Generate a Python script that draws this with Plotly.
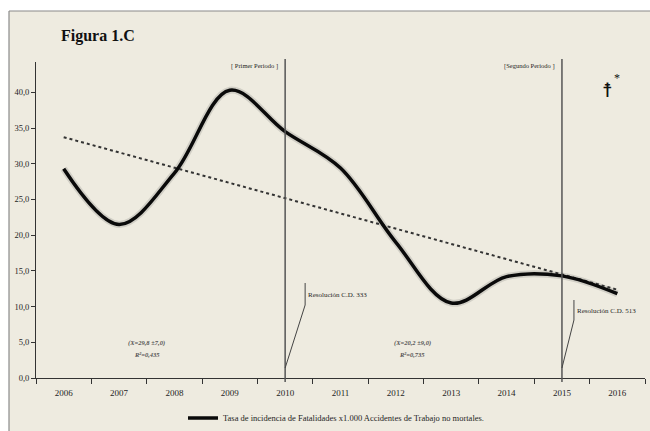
import plotly.graph_objects as go

# Tasa de incidencia de fatalidades por cada 1.000 accidentes de trabajo no mortales
years = [2006, 2007, 2008, 2009, 2010, 2011, 2012, 2013, 2014, 2015, 2016]
tasa = [29.3, 21.5, 28.7, 40.3, 34.5, 29.4, 19.0, 10.5, 14.2, 14.3, 11.8]

series_name = "Tasa de incidencia de Fatalidades x1.000 Accidentes de Trabajo no mortales."
y_ticks = [0, 5, 10, 15, 20, 25, 30, 35, 40]

# Periodos y resoluciones
period_years = [2010, 2015]
period_labels = ["[ Primer Periodo ]", "[Segundo Periodo ]"]
resolution_labels = ["Resolución C.D. 333", "Resolución C.D. 513"]
period_stats = [("(X=29,8 ±7,0)", "R²=0,435"), ("(X=20,2 ±9,0)", "R²=0,735")]
stats_centers = [2007.5, 2012.3]

# Recta de tendencia por mínimos cuadrados
n = len(years)
mx = sum(years) / n
my = sum(tasa) / n
slope = sum((x - mx) * (y - my) for x, y in zip(years, tasa)) / sum((x - mx) ** 2 for x in years)
trend = [my + slope * (x - mx) for x in years]

# Geometría del lienzo
W, H = 650, 431
ML, MR, MT, MB = 36, 5, 62, 53
PW, PH = W - ML - MR, H - MT - MB
XR = [2005.5, 2016.5]
YR = [0, 44.25]


def xpx(x):
    return ML + (x - XR[0]) / (XR[1] - XR[0]) * PW


def xdat(px):
    return XR[0] + (px - ML) / PW * (XR[1] - XR[0])


def ydat(py):
    return (H - MB - py) / PH * (YR[1] - YR[0])


def px_paper_x(px):
    return (px - ML) / PW


def px_paper_y(py):
    return (H - MB - py) / PH


SERIF = "Liberation Serif"
INK = "#1e1e1e"
BG = "#EEEBE0"

fig = go.Figure()

# sombra suave de la curva
fig.add_trace(go.Scatter(
    x=years, y=tasa, mode="lines", line=dict(color="rgba(60,60,60,0.16)", width=7, shape="spline"),
    hoverinfo="skip", showlegend=False))

fig.add_trace(go.Scatter(
    x=years, y=trend, mode="lines", line=dict(color="#333333", width=2, dash="dot"),
    showlegend=False))

fig.add_trace(go.Scatter(
    x=years, y=tasa, mode="lines", name=series_name,
    line=dict(color="#0a0a0a", width=3.5, shape="spline")))

shapes = [
    # fondo y marco
    dict(type="rect", xref="paper", yref="paper", x0=px_paper_x(9), x1=px_paper_x(W + 2),
         y0=px_paper_y(H + 2), y1=px_paper_y(11), fillcolor=BG, line=dict(width=0), layer="below"),
    dict(type="line", xref="paper", yref="paper", x0=px_paper_x(9), x1=px_paper_x(W + 2),
         y0=px_paper_y(11), y1=px_paper_y(11), line=dict(color="#8a8a8a", width=1.2)),
    dict(type="line", xref="paper", yref="paper", x0=px_paper_x(9), x1=px_paper_x(9),
         y0=px_paper_y(H + 2), y1=px_paper_y(11), line=dict(color="#8a8a8a", width=1.2)),
]

annotations = [
    dict(text="<b>Figura 1.C</b>", x=px_paper_x(59), y=px_paper_y(36), xref="paper", yref="paper",
         xanchor="left", yanchor="middle", showarrow=False,
         font=dict(family=SERIF, size=16, color="#111")),
    dict(text="☨", x=px_paper_x(607), y=px_paper_y(90), xref="paper", yref="paper",
         xanchor="center", yanchor="middle", showarrow=False,
         font=dict(family="DejaVu Sans", size=20, color="#111")),
    dict(text="*", x=px_paper_x(617), y=px_paper_y(78), xref="paper", yref="paper",
         xanchor="center", yanchor="middle", showarrow=False,
         font=dict(family=SERIF, size=12, color="#111")),
]

leaders = [(20, 368, 305, 283), (12, 368, 320, 300)]
for yr, plabel, rlabel, (dx, yb, yk, yt) in zip(period_years, period_labels, resolution_labels, leaders):
    xp = xpx(yr)
    shapes.append(dict(type="line", xref="x", yref="paper", x0=yr, x1=yr,
                       y0=px_paper_y(H - MB + 4), y1=px_paper_y(59),
                       line=dict(color="#555555", width=1.5)))
    shapes.append(dict(type="path", xref="x", yref="y",
                       path=f"M {yr},{ydat(yb)} L {xdat(xp + dx)},{ydat(yk)} L {xdat(xp + dx)},{ydat(yt)}",
                       line=dict(color="#444444", width=1)))
    annotations.append(dict(text=plabel, x=xdat(xp - 5), y=ydat(66), xref="x", yref="y",
                            xanchor="right", yanchor="middle", showarrow=False,
                            font=dict(family=SERIF, size=6.5, color=INK)))
    annotations.append(dict(text=rlabel, x=xdat(xp + dx + 1), y=ydat((yk + yt) / 2 + 1), xref="x", yref="y",
                            xanchor="left", yanchor="middle", showarrow=False,
                            font=dict(family=SERIF, size=7, color=INK)))

for xc, (mean_txt, r2_txt) in zip(stats_centers, period_stats):
    annotations.append(dict(text=f"<i><b>{mean_txt}</b></i>", x=xc, y=ydat(343), xref="x", yref="y",
                            xanchor="center", yanchor="middle", showarrow=False,
                            font=dict(family=SERIF, size=6.5, color="#555")))
    annotations.append(dict(text=f"<i><b>{r2_txt}</b></i>", x=xc, y=ydat(354), xref="x", yref="y",
                            xanchor="center", yanchor="middle", showarrow=False,
                            font=dict(family=SERIF, size=6.5, color="#555")))

fig.update_layout(
    width=W, height=H,
    margin=dict(l=ML, r=MR, t=MT, b=MB, autoexpand=False),
    paper_bgcolor="white",
    plot_bgcolor="rgba(0,0,0,0)",
    separators=",.",
    shapes=shapes,
    annotations=annotations,
    showlegend=True,
    legend=dict(orientation="h", x=px_paper_x(336), xanchor="center", y=px_paper_y(418), yanchor="middle",
                bgcolor="rgba(0,0,0,0)", font=dict(family=SERIF, size=8.5, color=INK),
                itemwidth=30, tracegroupgap=0),
    xaxis=dict(range=XR, tickvals=years, ticktext=[str(y) for y in years], ticks="",
               showgrid=False, zeroline=False, showline=True, linecolor="#333", linewidth=1,
               tickfont=dict(family=SERIF, size=9, color=INK), ticklabelstandoff=6,
               minor=dict(ticks="outside", ticklen=5, tick0=2005.5, dtick=1, tickcolor="#333", showgrid=False)),
    yaxis=dict(range=YR, tickvals=y_ticks, tickformat=".1f", ticks="outside", ticklen=4, tickcolor="#333",
               showgrid=False, zeroline=False, showline=True, linecolor="#333", linewidth=1,
               tickfont=dict(family=SERIF, size=8.5, color=INK)),
)

fig.write_html("out.html")
